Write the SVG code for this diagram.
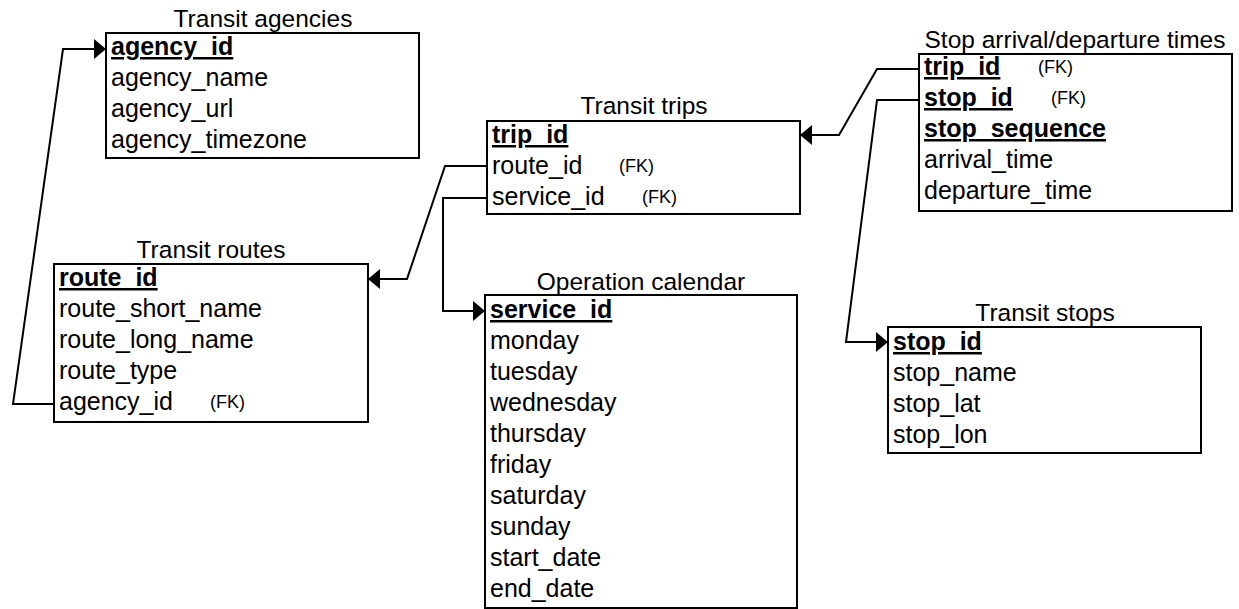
<svg xmlns="http://www.w3.org/2000/svg" width="1239" height="609" viewBox="0 0 1239 609">
  <style>
    .box { fill: #ffffff; stroke: #000000; stroke-width: 2; }
    .title { font-family: "Liberation Sans", Arial, Helvetica, sans-serif; font-size: 24.5px; fill: #000000; text-anchor: middle; }
    .field { font-family: "Liberation Sans", Arial, Helvetica, sans-serif; font-size: 25px; fill: #000000; }
    .pk { font-weight: bold; text-decoration: underline; }
    .fk { font-family: "Liberation Sans", Arial, Helvetica, sans-serif; font-size: 18px; fill: #000000; }
    .link { fill: none; stroke: #000000; stroke-width: 2; stroke-linejoin: miter; }
  </style>
  <defs>
    <marker id="arrow" markerUnits="userSpaceOnUse" markerWidth="14" markerHeight="22" refX="12" refY="10" orient="auto">
      <path d="M0,0 L12,10 L0,20 Z" fill="#000000"/>
    </marker>
  </defs>

  <rect width="1239" height="609" fill="#ffffff"/>

  <!-- foreign-key relations -->
  <g id="connectors">
    <path class="link" d="M54,404 H13 L63,49 H106" marker-end="url(#arrow)"/>
    <path class="link" d="M487,166 H445 L407,279 H368" marker-end="url(#arrow)"/>
    <path class="link" d="M487,198 H443 V311 H485" marker-end="url(#arrow)"/>
    <path class="link" d="M919,69 H877 L839,135 H800" marker-end="url(#arrow)"/>
    <path class="link" d="M919,100 H877 L846,342 H888" marker-end="url(#arrow)"/>
  </g>

  <!-- agency table -->
  <g id="agencies">
    <text class="title" x="263" y="27">Transit agencies</text>
    <rect class="box" x="106" y="33" width="313" height="125"/>
    <text class="field pk" x="111" y="55">agency_id</text>
    <text class="field" x="111" y="86">agency_name</text>
    <text class="field" x="111" y="117">agency_url</text>
    <text class="field" x="111" y="148">agency_timezone</text>
  </g>

  <!-- routes table -->
  <g id="routes">
    <text class="title" x="211" y="258">Transit routes</text>
    <rect class="box" x="54" y="264" width="314" height="158"/>
    <text class="field pk" x="59" y="286">route_id</text>
    <text class="field" x="59" y="317">route_short_name</text>
    <text class="field" x="59" y="348">route_long_name</text>
    <text class="field" x="59" y="379">route_type</text>
    <text class="field" x="59" y="410">agency_id</text>
    <text class="fk" x="210" y="408">(FK)</text>
  </g>

  <!-- trips table -->
  <g id="trips">
    <text class="title" x="644" y="114">Transit trips</text>
    <rect class="box" x="487" y="121" width="313" height="93"/>
    <text class="field pk" x="492" y="143">trip_id</text>
    <text class="field" x="492" y="174">route_id</text>
    <text class="fk" x="619" y="172">(FK)</text>
    <text class="field" x="492" y="205">service_id</text>
    <text class="fk" x="642" y="203">(FK)</text>
  </g>

  <!-- calendar table -->
  <g id="calendar">
    <text class="title" x="641" y="290">Operation calendar</text>
    <rect class="box" x="485" y="295" width="312" height="313"/>
    <text class="field pk" x="490" y="318">service_id</text>
    <text class="field" x="490" y="349">monday</text>
    <text class="field" x="490" y="380">tuesday</text>
    <text class="field" x="490" y="411">wednesday</text>
    <text class="field" x="490" y="442">thursday</text>
    <text class="field" x="490" y="473">friday</text>
    <text class="field" x="490" y="504">saturday</text>
    <text class="field" x="490" y="535">sunday</text>
    <text class="field" x="490" y="566">start_date</text>
    <text class="field" x="490" y="597">end_date</text>
  </g>

  <!-- stop times table -->
  <g id="stop_times">
    <text class="title" x="1075" y="48">Stop arrival/departure times</text>
    <rect class="box" x="919" y="54" width="313" height="157"/>
    <text class="field pk" x="924" y="75">trip_id</text>
    <text class="fk" x="1038" y="73">(FK)</text>
    <text class="field pk" x="924" y="106">stop_id</text>
    <text class="fk" x="1051" y="104">(FK)</text>
    <text class="field pk" x="924" y="137">stop_sequence</text>
    <text class="field" x="924" y="168">arrival_time</text>
    <text class="field" x="924" y="199">departure_time</text>
  </g>

  <!-- stops table -->
  <g id="stops">
    <text class="title" x="1045" y="321">Transit stops</text>
    <rect class="box" x="888" y="327" width="313" height="126"/>
    <text class="field pk" x="893" y="350">stop_id</text>
    <text class="field" x="893" y="381">stop_name</text>
    <text class="field" x="893" y="412">stop_lat</text>
    <text class="field" x="893" y="443">stop_lon</text>
  </g>
</svg>
